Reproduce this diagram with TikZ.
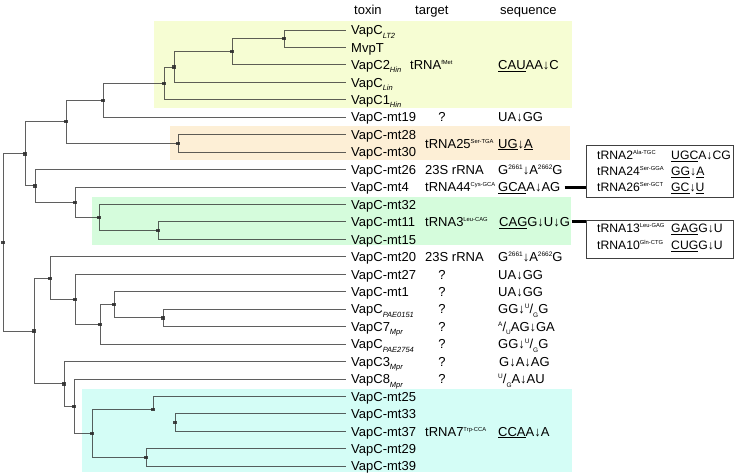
\documentclass[tikz,border=0pt]{standalone}
\usepackage{fontspec}
\setmainfont{Liberation Sans}
\usetikzlibrary{calc}
\definecolor{boxY}{HTML}{F6FDD3}
\definecolor{boxO}{HTML}{FDEFD6}
\definecolor{boxG}{HTML}{D5FCDC}
\definecolor{boxC}{HTML}{D4FDF6}
\definecolor{linec}{HTML}{2A2A2A}
\newcommand\sps[1]{\raisebox{5pt}{\fontsize{5.8}{6}\selectfont #1}}
\newcommand\spn[1]{\raisebox{5pt}{\fontsize{6.5}{7}\selectfont #1}}
\newcommand\sbi[1]{\raisebox{-3.3pt}{\fontsize{7.5}{7.5}\selectfont\itshape #1}}
\newcommand\sbn[1]{\raisebox{-3.3pt}{\fontsize{6.5}{7}\selectfont #1}}
\newcommand\rowy[1]{{30+17.45*(#1-1)}}
\newcommand\leaf[2]{\node[tox] (t#1) at (351,\rowy{#1}) {#2};}
\newcommand\inode[4]{\path ($(#3)!0.5!(#4)$) coordinate (#1m); \node[dot] (#1) at (#2,0 |- #1m) {};}
\begin{document}
\begin{tikzpicture}[x=1pt,y=-1pt,font=\fontsize{13}{15}\selectfont,
  tx/.style={anchor=west,inner sep=0pt,text height=9.4pt,text depth=0pt},
  tox/.style={tx},
  bx/.style={tx,font=\fontsize{12.2}{14}\selectfont,text height=8.8pt},
  qm/.style={anchor=center,inner sep=0pt,text height=9.4pt,text depth=0pt},
  dot/.style={fill=linec,opacity=0.85,inner sep=0pt,minimum size=3.2pt,rectangle},
  tree/.style={draw=linec,line width=1pt,opacity=0.75},
  conn/.style={draw=black,line width=3pt},
  boxst/.style={draw=black!75,line width=0.8pt,inner sep=0pt,anchor=north west}]
\useasboundingbox (0,0) rectangle (742,474);
% highlight backgrounds
\fill[boxY] (154,21) rectangle (572,108);
\fill[boxO] (170,126) rectangle (570,160);
\fill[boxG] (92,197) rectangle (571,245);
\fill[boxC] (82,389) rectangle (572,472);
% headers
\node[tx] (h1) at (354,10) {toxin};
\node[tx] (h2) at (415,10) {target};
\node[tx] (h3) at (500,10) {sequence};
% leaves
\leaf{1}{VapC\sbi{LT2}}
\leaf{2}{MvpT}
\leaf{3}{VapC2\sbi{Hin}}
\leaf{4}{VapC\sbi{Lin}}
\leaf{5}{VapC1\sbi{Hin}}
\leaf{6}{VapC-mt19}
\leaf{7}{VapC-mt28}
\leaf{8}{VapC-mt30}
\leaf{9}{VapC-mt26}
\leaf{10}{VapC-mt4}
\leaf{11}{VapC-mt32}
\leaf{12}{VapC-mt11}
\leaf{13}{VapC-mt15}
\leaf{14}{VapC-mt20}
\leaf{15}{VapC-mt27}
\leaf{16}{VapC-mt1}
\leaf{17}{VapC\sbi{PAE0151}}
\leaf{18}{VapC7\sbi{Mpr}}
\leaf{19}{VapC\sbi{PAE2754}}
\leaf{20}{VapC3\sbi{Mpr}}
\leaf{21}{VapC8\sbi{Mpr}}
\leaf{22}{VapC-mt25}
\leaf{23}{VapC-mt33}
\leaf{24}{VapC-mt37}
\leaf{25}{VapC-mt29}
\leaf{26}{VapC-mt39}
% internal nodes
\inode{n1}{284}{t1}{t2}
\inode{n2}{232}{n1}{t3}
\inode{n3}{174}{n2}{t4}
\inode{n4}{164}{n3}{t5}
\inode{n5}{103}{n4}{t6}
\inode{n6}{178}{t7}{t8}
\inode{n7}{66}{n5}{n6}
\inode{n8}{158}{t12}{t13}
\inode{n9}{99}{t11}{n8}
\inode{n10}{75}{t10}{n9}
\inode{n11}{35}{t9}{n10}
\inode{n12}{25}{n7}{n11}
\inode{n13}{163}{t17}{t18}
\inode{n14}{114}{t16}{n13}
\inode{n15}{100}{n14}{t19}
\inode{n16}{75}{t15}{n15}
\inode{n17}{50}{t14}{n16}
\inode{n18}{175}{t23}{t24}
\inode{n19}{153}{t22}{n18}
\inode{n20}{146}{t25}{t26}
\inode{n21}{92}{n19}{n20}
\inode{n22}{74}{t21}{n21}
\inode{n23}{64}{t20}{n22}
\inode{n24}{34}{n17}{n23}
\inode{r}{3}{n12}{n24}
% branches
\foreach \p/\c in {n1/t1,n1/t2,n2/t3,n3/t4,n4/t5,n5/t6,n6/t7,n6/t8,n8/t12,n8/t13,n9/t11,n10/t10,n11/t9,
  n13/t17,n13/t18,n14/t16,n15/t19,n16/t15,n17/t14,n18/t23,n18/t24,n19/t22,n20/t25,n20/t26,n22/t21,n23/t20}
  {\draw[tree] (\p.center) |- ([xshift=-5pt]\c.west);}
\foreach \p/\c in {n2/n1,n3/n2,n4/n3,n5/n4,n7/n5,n7/n6,n9/n8,n10/n9,n11/n10,n12/n7,n12/n11,
  n14/n13,n15/n14,n16/n15,n17/n16,n21/n19,n21/n20,n22/n21,n23/n22,n24/n17,n24/n23,r/n12,r/n24}
  {\draw[tree] (\p.center) |- (\c.center);}
% targets
\node[tx] (g3) at (410,\rowy{3}) {tRNA\sps{fMet}};
\node[tx] (g7) at (425,\rowy{7.5}) {tRNA25\sps{Ser-TGA}};
\node[tx] (g9) at (425,\rowy{9}) {23S rRNA};
\node[tx] (g10) at (425,\rowy{10}) {tRNA44\sps{Cys-GCA}};
\node[tx] (g12) at (425,\rowy{12}) {tRNA3\sps{Leu-CAG}};
\node[tx] (g14) at (425,\rowy{14}) {23S rRNA};
\node[tx] (g24) at (425,\rowy{24}) {tRNA7\sps{Trp-CCA}};
\foreach \i in {6,15,16,17,18,19,20,21} {\node[qm] (q\i) at (442,\rowy{\i}) {?};}
% sequences
\node[tx] (s3) at (498,\rowy{3}) {\underline{CAU}AA↓C};
\node[tx] (s6) at (498,\rowy{6}) {UA↓GG};
\node[tx] (s7) at (498,\rowy{7.5}) {\underline{UG}↓\underline{A}};
\node[tx] (s9) at (498,\rowy{9}) {G\spn{2661}↓A\spn{2662}G};
\node[tx] (s10) at (498,\rowy{10}) {\underline{GCA}A↓AG};
\node[tx] (s12) at (499,\rowy{12}) {\underline{CAG}G↓U↓G};
\node[tx] (s14) at (498,\rowy{14}) {G\spn{2661}↓A\spn{2662}G};
\node[tx] (s15) at (498,\rowy{15}) {UA↓GG};
\node[tx] (s16) at (498,\rowy{16}) {UA↓GG};
\node[tx] (s17) at (498,\rowy{17}) {GG↓\spn{U}/\sbn{G}G};
\node[tx] (s18) at (498,\rowy{18}) {\spn{A}/\sbn{U}AG↓GA};
\node[tx] (s19) at (498,\rowy{19}) {GG↓\spn{U}/\sbn{G}G};
\node[tx] (s20) at (499,\rowy{20}) {G↓A↓AG};
\node[tx] (s21) at (498,\rowy{21}) {\spn{U}/\sbn{G}A↓AU};
\node[tx] (s24) at (498,\rowy{24}) {\underline{CCA}A↓A};
% side boxes
\node[boxst,minimum width=147pt,minimum height=52pt] (b1) at (586,145) {};
\node[boxst,minimum width=147pt,minimum height=38pt] (b2) at (586,220) {};
\node[bx] (b1a) at (597,155) {tRNA2\sps{Ala-TGC}};
\node[bx] (b1b) at (671,155) {\underline{UGC}A↓CG};
\node[bx] (b1c) at (597,171) {tRNA24\sps{Ser-GGA}};
\node[bx] (b1d) at (671,171) {\underline{GG}↓\underline{A}};
\node[bx] (b1e) at (597,187) {tRNA26\sps{Ser-GCT}};
\node[bx] (b1f) at (671,187) {\underline{GC}↓\underline{U}};
\node[bx] (b2a) at (597,228) {tRNA13\sps{Leu-GAG}};
\node[bx] (b2b) at (671,228) {\underline{GAG}G↓U};
\node[bx] (b2c) at (597,245) {tRNA10\sps{Gln-CTG}};
\node[bx] (b2d) at (671,245) {\underline{CUG}G↓U};
\draw[conn] ([xshift=4pt]s10.east) -- (s10.east -| b1.west);
\draw[conn] ([xshift=1.5pt]s12.east) -- (s12.east -| b2.west);
\end{tikzpicture}
\end{document}
